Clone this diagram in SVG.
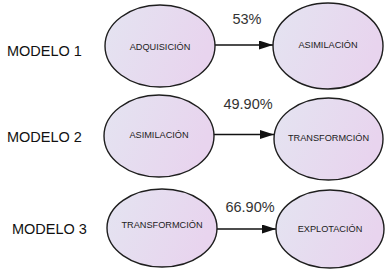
<svg xmlns="http://www.w3.org/2000/svg" width="392" height="270" viewBox="0 0 392 270">
  <defs>
    <linearGradient id="fill" x1="0" y1="0" x2="1" y2="0.3">
      <stop offset="0" stop-color="#e4e4f1"/>
      <stop offset="1" stop-color="#e8d4ee"/>
    </linearGradient>
    <marker id="arrow" markerUnits="userSpaceOnUse" markerWidth="14" markerHeight="9" refX="14" refY="4.5" orient="auto">
      <path d="M0,0 L14,4.5 L0,9 Z" fill="#111"/>
    </marker>
  </defs>
  <style>
    .node ellipse { fill: url(#fill); stroke: #1e1e1e; stroke-width: 1.4; }
    .node text { font-family: "Liberation Sans", Arial, sans-serif; font-size: 9.2px; fill: #222; text-anchor: middle; }
    .model { font-family: "Liberation Sans", Arial, sans-serif; font-size: 14.5px; fill: #111; }
    .pct { font-family: "Liberation Sans", Arial, sans-serif; font-size: 14.5px; fill: #333; text-anchor: middle; }
    .edges line { stroke: #111; stroke-width: 1.3; marker-end: url(#arrow); }
  </style>
  <rect width="392" height="270" fill="#ffffff"/>

  <text class="model" x="7" y="56">MODELO 1</text>
  <text class="model" x="7" y="142">MODELO 2</text>
  <text class="model" x="12" y="234">MODELO 3</text>

  <g class="edges">
    <line x1="215" y1="45" x2="273" y2="45"/>
    <line x1="214" y1="134.5" x2="274" y2="134.5"/>
    <line x1="217" y1="229" x2="276" y2="229"/>
  </g>

  <text class="pct" x="247" y="24">53%</text>
  <text class="pct" x="248" y="109">49.90%</text>
  <text class="pct" x="250" y="212">66.90%</text>

  <g id="n1" class="node">
    <ellipse cx="160" cy="46" rx="55" ry="41"/>
    <text x="160" y="50">ADQUISICIÓN</text>
  </g>
  <g id="n2" class="node">
    <ellipse cx="328" cy="46" rx="55" ry="43"/>
    <text x="328" y="48">ASIMILACIÓN</text>
  </g>
  <g id="n3" class="node">
    <ellipse cx="159" cy="136" rx="55" ry="41"/>
    <text x="159" y="138">ASIMILACIÓN</text>
  </g>
  <g id="n4" class="node">
    <ellipse cx="328.5" cy="139" rx="54.5" ry="41"/>
    <text x="328.5" y="141">TRANSFORMCIÓN</text>
  </g>
  <g id="n5" class="node">
    <ellipse cx="162" cy="228" rx="55" ry="39"/>
    <text x="162" y="228">TRANSFORMCIÓN</text>
  </g>
  <g id="n6" class="node">
    <ellipse cx="330" cy="229" rx="54" ry="39"/>
    <text x="330" y="232">EXPLOTACIÓN</text>
  </g>
</svg>
